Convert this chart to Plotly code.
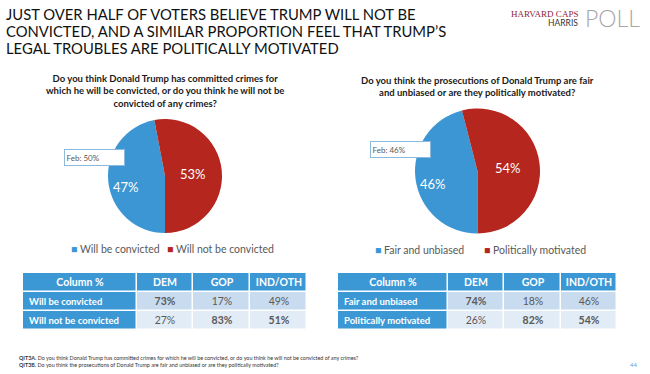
import plotly.graph_objects as go

# ---- data ----
q1_labels = ["Will be convicted", "Will not be convicted"]
q1_values = [47, 53]
q1_feb = 50
q2_labels = ["Fair and unbiased", "Politically motivated"]
q2_values = [46, 54]
q2_feb = 46

table_cols = ["Column %", "DEM", "GOP", "IND/OTH"]
t1_rows = ["Will be convicted", "Will not be convicted"]
t1_dem = [73, 27]
t1_gop = [17, 83]
t1_ind = [49, 51]
t1_bold = [[True, False], [False, True], [False, True]]
t2_rows = ["Fair and unbiased", "Politically motivated"]
t2_dem = [74, 26]
t2_gop = [18, 82]
t2_ind = [46, 54]
t2_bold = [[True, False], [False, True], [False, True]]

title_lines = ["JUST OVER HALF OF VOTERS BELIEVE TRUMP WILL NOT BE",
               "CONVICTED, AND A SIMILAR PROPORTION FEEL THAT TRUMP\u2019S",
               "LEGAL TROUBLES ARE POLITICALLY MOTIVATED"]
q1_title = "Do you think Donald Trump has committed crimes for<br>which he will be convicted, or do you think he will not be<br>convicted of any crimes?"
q2_title = "Do you think the prosecutions of Donald Trump are fair<br>and unbiased or are they politically motivated?"
foot1 = "<b>QIT3A.</b> Do you think Donald Trump has committed crimes for which he will be convicted, or do you think he will not be convicted of any crimes?"
foot2 = "<b>QIT3B.</b> Do you think the prosecutions of Donald Trump are fair and unbiased or are they politically motivated?"
page_no = "44"

BLUE = "#3b96d3"
RED = "#b4261e"
GRAY = "#595959"
HDR = "#3c98d5"
ROW1 = "#c8dbef"
ROW2 = "#e2ecf6"
FONT = "Lato, 'Open Sans', sans-serif"

W, H = 650, 374
def px(x): return x / W
def py(y): return 1 - y / H

fig = go.Figure()

def add_pie(labels, values, cx, cy, r):
    fig.add_trace(go.Pie(
        labels=labels, values=values, sort=False, direction="clockwise",
        rotation=180, marker=dict(colors=[BLUE, RED], line=dict(width=0)),
        textinfo="none", hoverinfo="label+percent", showlegend=False,
        domain=dict(x=[px(cx - r), px(cx + r)], y=[py(cy + r), py(cy - r)])))

add_pie(q1_labels, q1_values, 165, 176, 57)
add_pie(q2_labels, q2_values, 477.5, 171, 62.5)

ann = []
def A(text, x, y, size, color=GRAY, xanchor="left", align="left", **kw):
    ann.append(dict(text=text, x=px(x), y=py(y), xref="paper", yref="paper",
                    showarrow=False, xanchor=xanchor, yanchor="middle", align=align,
                    font=dict(family=kw.pop("family", FONT), size=size, color=color), **kw))

def fmt(v, b):
    return f"<b>{v}%</b>" if b else f"{v}%"

# tables drawn as heatmap bricks on hidden axes
def add_table(idx, rows, dem, gop, ind, bolds, col_edges, y0, y1):
    sfx = "" if idx == 1 else str(idx)
    xa, ya = "x" + sfx, "y" + sfx
    x0 = col_edges[0]
    edges = [e - x0 for e in col_edges]
    yedges = [0, 1, 2, 3]
    cols = [dem, gop, ind]
    # blue cells: header row + first column
    zb = [[0, 0, 0, 0]] + [[0, None, None, None] for _ in rows]
    tb = [[f"<b>{c}</b>" for c in table_cols]] + [["", "", "", ""] for _ in rows]
    fig.add_trace(go.Heatmap(
        x=edges, y=yedges, z=zb, text=tb, texttemplate="%{text}",
        textfont=dict(family=FONT, size=10.5, color="white"),
        colorscale=[[0, HDR], [1, HDR]], zmin=0, zmax=1, showscale=False,
        xgap=1.5, ygap=1.5, hoverinfo="skip", xaxis=xa, yaxis=ya))
    # data cells
    zd = [[None] * 4] + [[None] + [r + 1] * 3 for r in range(len(rows))]
    td = [[""] * 4] + [[""] + [fmt(cols[c][r], bolds[c][r]) for c in range(3)]
                       for r in range(len(rows))]
    fig.add_trace(go.Heatmap(
        x=edges, y=yedges, z=zd, text=td, texttemplate="%{text}",
        textfont=dict(family=FONT, size=10.5, color=GRAY),
        colorscale=[[0, ROW1], [0.5, ROW1], [0.5, ROW2], [1, ROW2]], zmin=1, zmax=2,
        showscale=False, xgap=1.5, ygap=1.5, hoverinfo="skip", xaxis=xa, yaxis=ya))
    fig.update_layout(**{
        ("xaxis" + sfx): dict(domain=[px(col_edges[0]), px(col_edges[-1])],
                              range=[0, edges[-1]], visible=False, fixedrange=True,
                              anchor=ya),
        ("yaxis" + sfx): dict(domain=[py(y1), py(y0)], range=[3, 0], visible=False,
                              fixedrange=True, anchor=xa),
    })
    rh = (y1 - y0) / 3
    for i, r in enumerate(rows):
        A(f"<b>{r}</b>", col_edges[0] + 4, y0 + rh * (i + 1.5), 9.5, color="white")

add_table(1, t1_rows, t1_dem, t1_gop, t1_ind, t1_bold, [23, 137, 193, 250, 307], 273, 329.5)
add_table(2, t2_rows, t2_dem, t2_gop, t2_ind, t2_bold, [338, 448, 504, 561, 617], 273, 329.5)

# main title
for i, t in enumerate(title_lines):
    A(t, 4, 14 + 17 * i, 14.8, color="#111111")

# logo
A("HARVARD CAPS", 580, 13.5, 9, color="#8e2438", xanchor="right",
  family="'Liberation Serif', 'DejaVu Serif', serif")
A("HARRIS", 580, 22.5, 8.5, color="#333333", xanchor="right")
A("POLL", 583, 18, 23, color="#a6a6a6", family="Lato Light, Lato, sans-serif")

# question titles
A(f"<b>{q1_title}</b>", 165, 91, 9.5, color="#1a1a1a", xanchor="center", align="center")
A(f"<b>{q2_title}</b>", 477, 86.5, 9.5, color="#1a1a1a", xanchor="center", align="center")

# slice percentage labels
A(f"{q1_values[0]}%", 126, 187, 13, color="white", xanchor="center")
A(f"{q1_values[1]}%", 193, 174, 13, color="white", xanchor="center")
A(f"{q2_values[0]}%", 433, 184, 13, color="white", xanchor="center")
A(f"{q2_values[1]}%", 508, 168, 13, color="white", xanchor="center")

# Feb boxes
for val, x0, yc in [(q1_feb, 64, 157), (q2_feb, 370, 149)]:
    ann.append(dict(text=f"Feb: {val}%", x=px(x0), y=py(yc), xref="paper", yref="paper",
                    showarrow=False, xanchor="left", yanchor="middle", align="left",
                    width=56, height=12, borderpad=1.5,
                    bgcolor="white", bordercolor="#8cb9de", borderwidth=1,
                    font=dict(family=FONT, size=8, color=GRAY)))

# legends
def legend(labels, xs, y):
    for lab, col, x in zip(labels, [BLUE, RED], xs):
        A(f"<span style='color:{col}'>\u25A0</span> {lab}", x, y, 10.5, color=GRAY)

legend(q1_labels, [69, 165], 249)
legend(q2_labels, [373, 482], 250)

# footer
A(foot1, 17, 358, 5.4, color="#333333")
A(foot2, 17, 364.5, 5.4, color="#333333")
A(page_no, 633, 364.5, 6, color="#5fa3d8", xanchor="center")

fig.update_layout(width=W, height=H, margin=dict(l=0, r=0, t=0, b=0),
                  paper_bgcolor="white", plot_bgcolor="white",
                  font=dict(family=FONT), annotations=ann, showlegend=False)

fig.write_html("out.html", config={"displayModeBar": False},
               post_script="document.body.style.margin='0';document.body.style.overflow='hidden';")
